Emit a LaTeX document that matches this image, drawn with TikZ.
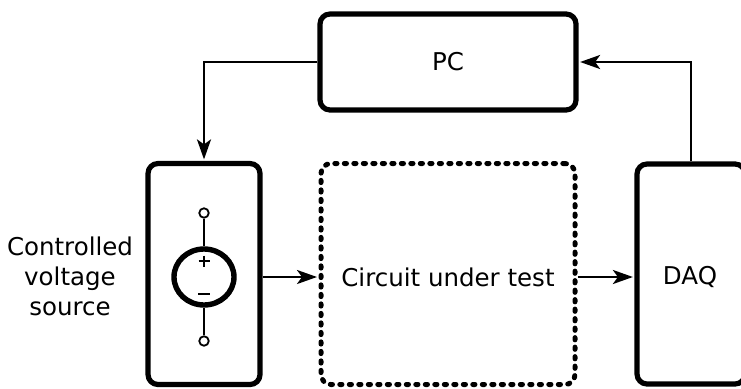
\documentclass[tikz,border=0pt]{standalone}
\usepackage{fontspec}
\setmainfont{DejaVu Sans}
\usetikzlibrary{arrows.meta,calc,shapes.geometric}
\begin{document}
\begin{tikzpicture}[x=1pt,y=-1pt,
  box/.style={draw,line width=5.2pt,rounded corners=10pt,inner sep=0pt,font=\fontsize{24.5}{30}\selectfont},
  dotbox/.style={draw,line width=5pt,rounded corners=10pt,inner sep=0pt,line cap=round,dash pattern=on 2.2pt off 7.3pt,font=\fontsize{24.5}{30}\selectfont},
  conn/.style={line width=2.5pt,-{Stealth[length=20pt,width=14pt,inset=5pt]},shorten >=1.5pt},
  wire/.style={line width=1.7pt},
  term/.style={draw,circle,line width=1.8pt,minimum size=9.5pt,inner sep=0pt},
  lbl/.style={font=\fontsize{24.5}{30}\selectfont,align=center,inner sep=0pt}]
\useasboundingbox (0,0) rectangle (741,388);
\node[box,minimum width=256pt,minimum height=96pt] (pc) at (448,62) {PC};
\node[box,minimum width=112pt,minimum height=221pt] (src) at (204,274) {};
\node[dotbox,minimum width=254pt,minimum height=221pt] (cut) at (448,274) {};
\node[box,minimum width=108pt,minimum height=220pt] (daq) at (691,274) {};
\node[lbl] at (690,277) {DAQ};
\node[lbl] at (448,277) {Circuit under test};
\node[lbl] (lab) at (70,276) {Controlled\\voltage\\source};
% source symbol
\node[draw,ellipse,line width=5.4pt,minimum width=60pt,minimum height=56pt,inner sep=0pt] (vs) at (204,277) {};
\node[term] (tp) at (204,213) {};
\node[term] (tm) at (204,341) {};
\draw[wire] (tp) -- (vs);
\draw[wire] (tm) -- (vs);
\draw[line width=2.2pt] (198.5,261) -- (209.5,261) (204,255.5) -- (204,266.5);
\draw[line width=2.6pt] (198,294) -- (210,294);
% connectors
\draw[conn] (pc.west) -| (src.north);
\draw[conn] (daq.north) |- (pc.east);
\draw[conn] (src.east |- vs) -- (cut.west |- vs);
\draw[conn] (cut.east |- vs) -- (daq.west |- vs);
\end{tikzpicture}
\end{document}
